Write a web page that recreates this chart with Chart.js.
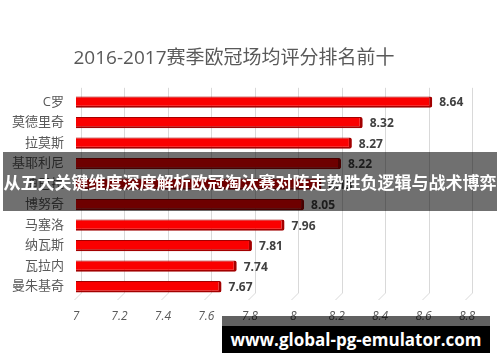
<!DOCTYPE html>
<html>
<head>
<meta charset="utf-8">
<title>2016-2017赛季欧冠场均评分排名前十</title>
<script src="https://cdn.jsdelivr.net/npm/chart.js@4.4.0/dist/chart.umd.min.js"></script>
<style>
  body { margin: 0; background: #fff; }
  #wrap { position: relative; width: 500px; height: 362px; }
  .band {
    position: absolute; left: 3px; top: 152px; width: 494px; height: 59px;
    background: rgba(0, 0, 0, 0.56); color: #fff;
    font: bold 17px "Noto Sans CJK SC", sans-serif; line-height: 59px;
    text-align: center; white-space: nowrap; overflow: visible;
  }
  .mark-top { position: absolute; left: 222px; top: 316px; width: 268px; height: 10px; background: rgba(0, 0, 0, 0.62); }
  .mark {
    position: absolute; left: 222px; top: 326px; width: 268px; height: 27px;
    background: #000; color: #fff; font: bold 17px "Open Sans", sans-serif;
    line-height: 27px; text-align: center; white-space: nowrap;
  }
</style>
</head>
<body>
<div id="wrap">
  <canvas id="myChart" width="500" height="362"></canvas>
  <div class="band">从五大关键维度深度解析欧冠淘汰赛对阵走势胜负逻辑与战术博弈</div>
  <div class="mark-top"></div>
  <div class="mark">www.global-pg-emulator.com</div>
</div>
<script>
  // 数据
  var players = ['C罗', '莫德里奇', '拉莫斯', '基耶利尼', '迪巴拉', '博努奇', '马塞洛', '纳瓦斯', '瓦拉内', '曼朱基奇'];
  var ratings = [8.64, 8.32, 8.27, 8.22, 8.13, 8.05, 7.96, 7.81, 7.74, 7.67];
  var xTicks = [7, 7.2, 7.4, 7.6, 7.8, 8, 8.2, 8.4, 8.6, 8.8];

  var labelFont = '"Open Sans", "Noto Sans CJK SC", sans-serif';

  // 3D 风格的网格线
  var gridPlugin = {
    id: 'grid3d',
    beforeDatasetsDraw: function(chart) {
      var ctx = chart.ctx, area = chart.chartArea, xs = chart.scales.x;
      ctx.save();
      ctx.strokeStyle = '#d9d9d9';
      ctx.lineWidth = 1;
      xTicks.forEach(function(v) {
        var x = Math.round(xs.getPixelForValue(v)) + 0.5;
        ctx.beginPath();
        ctx.moveTo(x + 5, area.top - 4);
        ctx.lineTo(x + 5, area.bottom - 4);
        ctx.lineTo(x - 2, area.bottom + 3);
        ctx.stroke();
      });
      ctx.restore();
    }
  };

  // 数值标签
  var valuePlugin = {
    id: 'values',
    afterDatasetsDraw: function(chart) {
      var ctx = chart.ctx;
      var meta = chart.getDatasetMeta(0);
      ctx.save();
      ctx.font = 'bold 12px ' + labelFont;
      ctx.fillStyle = '#404040';
      ctx.textBaseline = 'middle';
      meta.data.forEach(function(bar, i) {
        ctx.fillText(ratings[i].toFixed(2), bar.x + 7, bar.y + 1);
      });
      ctx.restore();
    }
  };

  var ctx = document.getElementById('myChart').getContext('2d');
  var myChart = new Chart(ctx, {
    type: 'bar',
    data: {
      labels: players,
      datasets: [{
        data: ratings,
        backgroundColor: '#fa0000',
        borderColor: '#a30000',
        borderWidth: { top: 1, right: 3, bottom: 2, left: 0 },
        borderSkipped: false,
        borderRadius: { topRight: 2, bottomRight: 2 },
        barPercentage: 0.55,
        categoryPercentage: 1
      }]
    },
    options: {
      indexAxis: 'y',
      responsive: false,
      animation: false,
      layout: { padding: { left: 1, right: 33, top: 0, bottom: 0 } },
      plugins: {
        legend: { display: false },
        tooltip: { enabled: false },
        title: {
          display: true,
          text: '2016-2017赛季欧冠场均评分排名前十',
          color: '#595959',
          font: { size: 19, weight: 'normal', family: labelFont },
          padding: { top: 47, bottom: 22 }
        }
      },
      scales: {
        x: {
          min: 7,
          max: 8.8,
          afterBuildTicks: function(scale) {
            scale.ticks = xTicks.map(function(v) { return { value: v }; });
          },
          afterFit: function(scale) { scale.height = 65; },
          grid: { display: false, drawTicks: false },
          border: { display: false },
          ticks: {
            color: '#595959',
            padding: 12,
            maxRotation: 0,
            font: { size: 12, style: 'italic', family: labelFont },
            callback: function(v) { return String(Number(v.toFixed(1))); }
          }
        },
        y: {
          afterFit: function(scale) { scale.width = 75; },
          grid: { display: false, drawTicks: false },
          border: { display: false },
          ticks: {
            color: '#595959',
            padding: 12,
            font: { size: 13, family: labelFont }
          }
        }
      }
    },
    plugins: [gridPlugin, valuePlugin]
  });
</script>
</body>
</html>
